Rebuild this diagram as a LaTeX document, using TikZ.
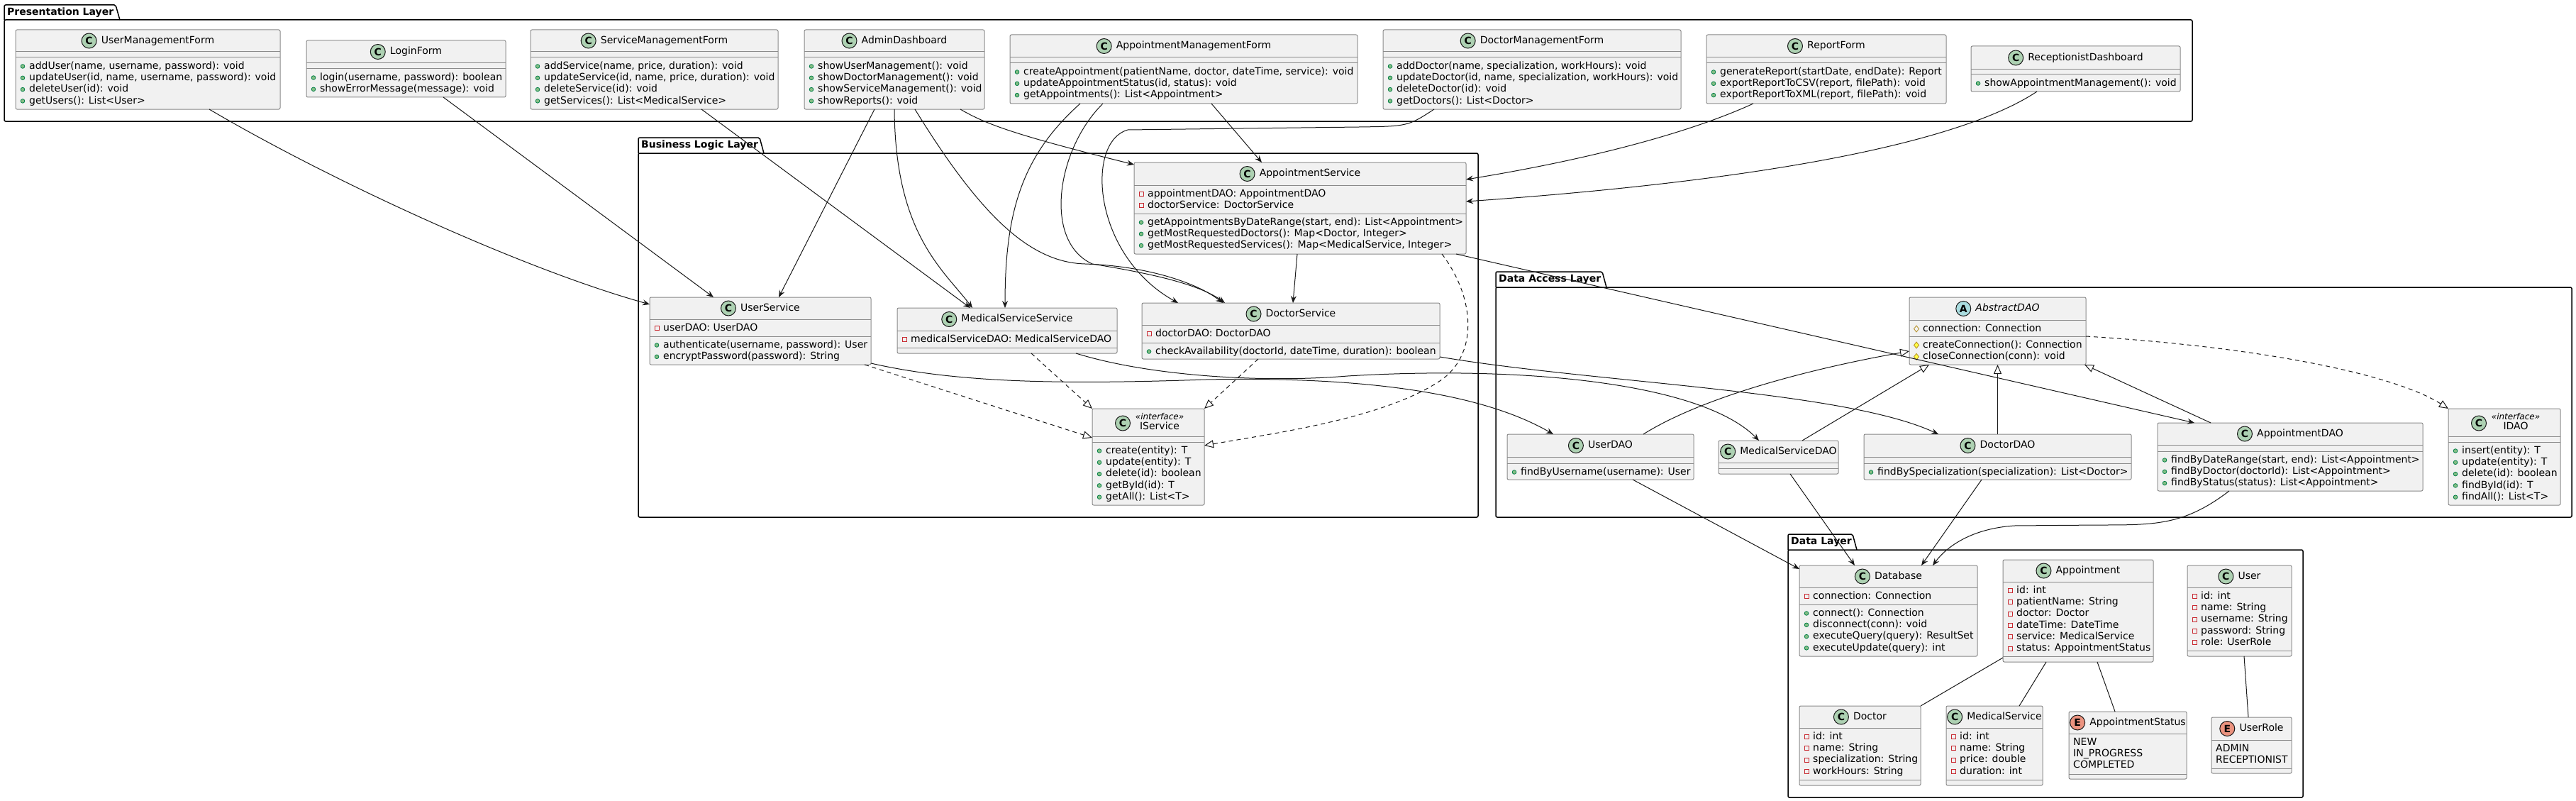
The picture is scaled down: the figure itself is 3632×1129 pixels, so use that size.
\documentclass[tikz,border=0pt]{standalone}
\usepackage{fontspec}
\setmainfont{DejaVu Sans}
\usepackage{tikz}
\usetikzlibrary{arrows.meta,positioning,fit}

\definecolor{boxfill}{HTML}{F1F1F1}
\definecolor{boxline}{HTML}{8A8A8A}
\definecolor{lineclr}{HTML}{181818}
\definecolor{iconline}{HTML}{181818}
\definecolor{spotc}{HTML}{ADD1B2}
\definecolor{spota}{HTML}{A9DCDF}
\definecolor{spote}{HTML}{EB937F}
\definecolor{pubfill}{HTML}{84BE84}
\definecolor{publine}{HTML}{038048}
\definecolor{privline}{HTML}{C82930}
\definecolor{protfill}{HTML}{FFFF44}
\definecolor{protline}{HTML}{B38D22}

% a layer: id, title, left, tab top, tab right, body top, right, bottom
\newcommand{\layerframe}[8]{%
  \draw[pkgline, rounded corners=2pt] (#3,#6) |- (#5-6,#4) -- (#5,#6);
  \draw[pkgline, rounded corners=2pt] (#3,#6) rectangle (#7,#8);
  \node[pkgtitle] (#1) at (#3+4,{(#4+#6)/2}) {#2};
}
% a class box: id, left, top, right, bottom, first rule, second rule
\newcommand{\classbox}[7]{%
  \node[cls, fit={(#2,#3) (#4,#5)}] (#1) {};
  \draw[rule] (#2,#6) -- (#4,#6);
  \draw[rule] (#2,#7) -- (#4,#7);
  \coordinate (#1-head) at ({(#2+#4)/2},{(#3+#6)/2});
  \coordinate (#1-attr) at (#2,#6);
  \coordinate (#1-ops) at (#2,#7);
}
% header: id, spot letter, spot colour, name
\newcommand{\classhead}[4]{%
  \node[headtext] (#1-name) at ([xshift=14pt]#1-head) {#4};
  \node[classicon, fill=#3, left=6pt of #1-name] (#1-spot) {#2};
}
\newcommand{\ifacehead}[2]{%
  \node[stereo] (#1-stereo) at ([shift={(16,-8.5)}]#1-head) {«interface»};
  \node[headtext] (#1-name) at ([shift={(16,6.5)}]#1-head) {#2};
  \node[classicon, fill=spotc] (#1-spot) at ([shift={(-36,1)}]#1-head) {C};
}
% members: compartment, icon, list
\newcommand{\members}[3]{%
  \foreach \m [count=\k from 0] in {#3} {
    \path ([shift={(10,12.5+16.3*\k)}]#1) pic {#2};
    \node[memtext] at ([shift={(19,12.5+16.3*\k)}]#1) {\m};
  }%
}
\newcommand{\enumvalues}[2]{%
  \foreach \m [count=\k from 0] in {#2} {
    \node[memtext] at ([shift={(6,12.5+16.3*\k)}]#1) {\m};
  }%
}

\begin{document}
\begin{tikzpicture}[x=1pt, y=-1pt,
    cls/.style={draw=boxline, fill=boxfill, line width=1pt, rounded corners=2pt, inner sep=0pt, outer sep=0pt},
    rule/.style={draw=boxline, line width=1pt},
    headtext/.style={inner sep=0pt, font=\fontsize{14}{16}\selectfont, text height=10.5pt, text depth=3pt},
    memtext/.style={anchor=west, inner sep=0pt, font=\fontsize{14}{16}\selectfont, text height=10.5pt, text depth=3pt},
    stereo/.style={inner sep=0pt, font=\fontsize{12}{14}\selectfont\itshape},
    classicon/.style={circle, draw=iconline, line width=1pt, minimum size=21pt, inner sep=0pt, font=\fontsize{14}{14}\selectfont\bfseries},
    pkgline/.style={draw=black, line width=1.5pt},
    pkgtitle/.style={anchor=west, inner sep=0pt, font=\fontsize{14}{16}\selectfont\bfseries},
    uses/.style={draw=lineclr, line width=1pt, -{Stealth[length=10pt,width=8pt,inset=3.5pt]}},
    impl/.style={draw=lineclr, line width=1pt, dash pattern=on 6pt off 5pt, -{Triangle[fill=white,length=13pt,width=11pt]}},
    inherit/.style={draw=lineclr, line width=1pt, -{Triangle[fill=white,length=13pt,width=11pt]}},
    assoc/.style={draw=lineclr, line width=1pt},
    pubm/.pic={\filldraw[fill=pubfill, draw=publine, line width=0.8pt] (0,0) circle (2.8pt);},
    privf/.pic={\draw[privline, line width=0.8pt] (-3,-3) rectangle (3,3);},
    protf/.pic={\draw[protline, line width=0.8pt] (0,-4.5) -- (3.5,0) -- (0,4.5) -- (-3.5,0) -- cycle;},
    protm/.pic={\filldraw[fill=protfill, draw=protline, line width=0.8pt] (0,-4.5) -- (3.5,0) -- (0,4.5) -- (-3.5,0) -- cycle;}
  ]
  \useasboundingbox (0,0) rectangle (3632,1129);

  % layers
  \layerframe{pres}{Presentation Layer}{6}{7}{169}{28}{3091}{171}
  \layerframe{busi}{Business Logic Layer}{900}{194}{1077}{216}{2084}{729}
  \layerframe{dacc}{Data Access Layer}{2109}{383}{2265}{405}{3626}{729}
  \layerframe{data}{Data Layer}{2521}{753}{2618}{775}{3247}{1124}

  % presentation layer
  \classbox{umf}{22}{42}{395}{154}{73}{81}
  \classhead{umf}{C}{spotc}{UserManagementForm}
  \members{umf-ops}{pubm}{{addUser(name, username, password): void}, {updateUser(id, name, username, password): void}, {deleteUser(id): void}, {getUsers(): List<User>}}

  \classbox{lf}{432}{57}{713}{137}{89}{97}
  \classhead{lf}{C}{spotc}{LoginForm}
  \members{lf-ops}{pubm}{{login(username, password): boolean}, {showErrorMessage(message): void}}

  \classbox{smf}{748}{42}{1097}{154}{73}{81}
  \classhead{smf}{C}{spotc}{ServiceManagementForm}
  \members{smf-ops}{pubm}{{addService(name, price, duration): void}, {updateService(id, name, price, duration): void}, {deleteService(id): void}, {getServices(): List<MedicalService>}}

  \classbox{ad}{1134}{42}{1388}{154}{73}{81}
  \classhead{ad}{C}{spotc}{AdminDashboard}
  \members{ad-ops}{pubm}{{showUserManagement(): void}, {showDoctorManagement(): void}, {showServiceManagement(): void}, {showReports(): void}}

  \classbox{amf}{1424}{49}{1914}{146}{81}{89}
  \classhead{amf}{C}{spotc}{AppointmentManagementForm}
  \members{amf-ops}{pubm}{{createAppointment(patientName, doctor, dateTime, service): void}, {updateAppointmentStatus(id, status): void}, {getAppointments(): List<Appointment>}}

  \classbox{dmf}{1950}{42}{2370}{154}{73}{81}
  \classhead{dmf}{C}{spotc}{DoctorManagementForm}
  \members{dmf-ops}{pubm}{{addDoctor(name, specialization, workHours): void}, {updateDoctor(id, name, specialization, workHours): void}, {deleteDoctor(id): void}, {getDoctors(): List<Doctor>}}

  \classbox{rf}{2406}{49}{2744}{146}{81}{89}
  \classhead{rf}{C}{spotc}{ReportForm}
  \members{rf-ops}{pubm}{{generateReport(startDate, endDate): Report}, {exportReportToCSV(report, filePath): void}, {exportReportToXML(report, filePath): void}}

  \classbox{rd}{2779}{65}{3074}{129}{98}{105}
  \classhead{rd}{C}{spotc}{ReceptionistDashboard}
  \members{rd-ops}{pubm}{{showAppointmentManagement(): void}}

  % business logic layer
  \classbox{us}{916}{419}{1228}{514}{450}{474}
  \classhead{us}{C}{spotc}{UserService}
  \members{us-attr}{privf}{{userDAO: UserDAO}}
  \members{us-ops}{pubm}{{authenticate(username, password): User}, {encryptPassword(password): String}}

  \classbox{mss}{1265}{434}{1575}{498}{466}{490}
  \classhead{mss}{C}{spotc}{MedicalServiceService}
  \members{mss-attr}{privf}{{medicalServiceDAO: MedicalServiceDAO}}

  \classbox{aps}{1599}{229}{2067}{358}{261}{301}
  \classhead{aps}{C}{spotc}{AppointmentService}
  \members{aps-attr}{privf}{{appointmentDAO: AppointmentDAO}, {doctorService: DoctorService}}
  \members{aps-ops}{pubm}{{getAppointmentsByDateRange(start, end): List<Appointment>}, {getMostRequestedDoctors(): Map<Doctor, Integer>}, {getMostRequestedServices(): Map<MedicalService, Integer>}}

  \classbox{ds}{1610}{427}{2030}{506}{458}{483}
  \classhead{ds}{C}{spotc}{DoctorService}
  \members{ds-attr}{privf}{{doctorDAO: DoctorDAO}}
  \members{ds-ops}{pubm}{{checkAvailability(doctorId, dateTime, duration): boolean}}

  \classbox{isv}{1540}{576}{1698}{712}{615}{623}
  \ifacehead{isv}{IService}
  \members{isv-ops}{pubm}{{create(entity): T}, {update(entity): T}, {delete(id): boolean}, {getById(id): T}, {getAll(): List<T>}}

  % data access layer
  \classbox{adao}{2692}{419}{2941}{514}{451}{474}
  \classhead{adao}{A}{spota}{\itshape AbstractDAO}
  \members{adao-attr}{protf}{{connection: Connection}}
  \members{adao-ops}{protm}{{createConnection(): Connection}, {closeConnection(conn): void}}

  \classbox{udao}{2125}{612}{2388}{676}{644}{653}
  \classhead{udao}{C}{spotc}{UserDAO}
  \members{udao-ops}{pubm}{{findByUsername(username): User}}

  \classbox{msdao}{2423}{621}{2592}{668}{652}{660}
  \classhead{msdao}{C}{spotc}{MedicalServiceDAO}

  \classbox{ddao}{2628}{612}{3005}{676}{644}{653}
  \classhead{ddao}{C}{spotc}{DoctorDAO}
  \members{ddao-ops}{pubm}{{findBySpecialization(specialization): List<Doctor>}}

  \classbox{apdao}{3042}{596}{3416}{692}{627}{636}
  \classhead{apdao}{C}{spotc}{AppointmentDAO}
  \members{apdao-ops}{pubm}{{findByDateRange(start, end): List<Appointment>}, {findByDoctor(doctorId): List<Appointment>}, {findByStatus(status): List<Appointment>}}

  \classbox{idao}{3452}{576}{3610}{712}{615}{623}
  \ifacehead{idao}{IDAO}
  \members{idao-ops}{pubm}{{insert(entity): T}, {update(entity): T}, {delete(id): boolean}, {findById(id): T}, {findAll(): List<T>}}

  % data layer
  \classbox{db}{2537}{797}{2788}{925}{828}{852}
  \classhead{db}{C}{spotc}{Database}
  \members{db-attr}{privf}{{connection: Connection}}
  \members{db-ops}{pubm}{{connect(): Connection}, {disconnect(conn): void}, {executeQuery(query): ResultSet}, {executeUpdate(query): int}}

  \classbox{appt}{2824}{789}{3036}{933}{820}{925}
  \classhead{appt}{C}{spotc}{Appointment}
  \members{appt-attr}{privf}{{id: int}, {patientName: String}, {doctor: Doctor}, {dateTime: DateTime}, {service: MedicalService}, {status: AppointmentStatus}}

  \classbox{user}{3084}{797}{3231}{925}{828}{917}
  \classhead{user}{C}{spotc}{User}
  \members{user-attr}{privf}{{id: int}, {name: String}, {username: String}, {password: String}, {role: UserRole}}

  \classbox{doc}{2537}{995}{2708}{1107}{1026}{1099}
  \classhead{doc}{C}{spotc}{Doctor}
  \members{doc-attr}{privf}{{id: int}, {name: String}, {specialization: String}, {workHours: String}}

  \classbox{msv}{2744}{995}{2880}{1107}{1026}{1099}
  \classhead{msv}{C}{spotc}{MedicalService}
  \members{msv-attr}{privf}{{id: int}, {name: String}, {price: double}, {duration: int}}

  \classbox{ast}{2917}{1003}{3083}{1098}{1034}{1091}
  \classhead{ast}{E}{spote}{AppointmentStatus}
  \enumvalues{ast-attr}{{NEW}, {IN\_PROGRESS}, {COMPLETED}}

  \classbox{urole}{3118}{1011}{3231}{1090}{1043}{1083}
  \classhead{urole}{E}{spote}{UserRole}
  \enumvalues{urole-attr}{{ADMIN}, {RECEPTIONIST}}

  % presentation -> business
  \draw[uses] ([xshift=86.5pt]umf.south) .. controls (465,254) and (736,379) .. ([yshift=37.5pt]us.west);
  \draw[uses] ([xshift=52.5pt]lf.south) -- ([xshift=-66pt]us.north);
  \draw[uses] ([xshift=66.5pt]smf.south) -- ([xshift=-52pt]mss.north);
  \draw[uses] ([xshift=-28pt]ad.south) -- ([xshift=26pt]us.north);
  \draw[uses] (ad.south) .. controls (1262,330) and (1330,380) .. ([xshift=-49pt]mss.north);
  \draw[uses] ([xshift=29pt]ad.south) .. controls (1380,300) and (1450,370) .. (1530,372) .. controls (1620,375) and (1690,400) .. ([xshift=-96pt]ds.north);
  \draw[uses] ([xshift=93pt]ad.south) .. controls (1390,175) and (1430,190) .. ([yshift=61.5pt]aps.west);
  \draw[uses] ([xshift=-146pt]amf.south) .. controls (1440,220) and (1417,300) .. ([xshift=-3pt]mss.north);
  \draw[uses] ([xshift=-114pt]amf.south) .. controls (1490,210) and (1470,340) .. (1540,372) .. controls (1620,385) and (1690,400) .. ([xshift=-93pt]ds.north);
  \draw[uses] ([xshift=39pt]amf.south) -- ([xshift=-54pt]aps.north);
  \draw[uses] ([xshift=-138pt]dmf.south) .. controls (1985,178) .. (1916,179) -- (1590,183) .. controls (1530,200) and (1540,360) .. ([xshift=-159pt]ds.north);
  \draw[uses] ([xshift=-103pt]rf.south) .. controls (2420,170) and (2300,215) .. ([yshift=40.5pt]aps.east);
  \draw[uses] ([xshift=-54.5pt]rd.south) .. controls (2780,190) and (2550,250) .. ([yshift=9.5pt]aps.east);

  % inside business
  \draw[uses] ([xshift=-4pt]aps.south) -- ([xshift=3pt]ds.north);
  \draw[impl] ([xshift=147pt]us.south) -- ([yshift=27pt]isv.west);
  \draw[impl] ([xshift=34pt]mss.south) -- (isv.north west);
  \draw[impl] ([xshift=-46pt]ds.south) -- (isv.north east);
  \draw[impl] ([xshift=200pt]aps.south) .. controls (2080,420) and (2085,500) .. (2030,537) .. controls (1950,590) and (1800,610) .. ([yshift=16pt]isv.east);

  % business -> data access
  \draw[uses] ([yshift=-45.5pt]us.east) .. controls (1350,540) and (1500,542) .. (1700,535) .. controls (1950,530) and (2100,560) .. ([xshift=-66.5pt]udao.north);
  \draw[uses] ([xshift=97pt]mss.south) .. controls (1620,530) and (1780,540) .. (1900,530) .. controls (2150,515) and (2400,540) .. ([xshift=-27.5pt]msdao.north);
  \draw[uses] ([yshift=-36.5pt]ds.east) .. controls (2250,540) and (2600,550) .. ([xshift=-83.5pt]ddao.north);
  \draw[uses] ([xshift=220pt]aps.south) -- ([xshift=-135pt]apdao.north);

  % inside data access
  \draw[inherit] ([xshift=60.5pt]udao.north) .. controls (2400,560) and (2550,520) .. ([yshift=-28.5pt]adao.west);
  \draw[inherit] ([xshift=33.5pt]msdao.north) -- ([xshift=-96.5pt]adao.south);
  \draw[inherit] (ddao.north) -- (adao.south);
  \draw[inherit] ([xshift=-112pt]apdao.north) -- ([xshift=122.5pt]adao.south);
  \draw[impl] ([yshift=-7.5pt]adao.east) .. controls (3200,490) and (3380,530) .. (idao.north west);

  % data access -> data
  \draw[uses] ([xshift=45.5pt]udao.south) -- ([yshift=59pt]db.west);
  \draw[uses] ([xshift=16.5pt]msdao.south) -- ([xshift=-47.5pt]db.north);
  \draw[uses] ([xshift=-22.5pt]ddao.south) -- ([xshift=46.5pt]db.north);
  \draw[uses] ([xshift=-86pt]apdao.south) .. controls (3080,740) and (3040,740) .. (2960,740) -- (2840,741) .. controls (2780,745) and (2745,770) .. ([xshift=62.5pt]db.north);

  % inside data
  \draw[assoc] ([yshift=-66pt]appt.west) -- (doc.north east);
  \draw[assoc] ([xshift=-45pt]appt.south) -- ([xshift=35pt]msv.north);
  \draw[assoc] ([xshift=27pt]appt.south) -- ([xshift=-18pt]ast.north);
  \draw[assoc] ([xshift=6.5pt]user.south) -- ([xshift=-4.5pt]urole.north);
\end{tikzpicture}
\end{document}
